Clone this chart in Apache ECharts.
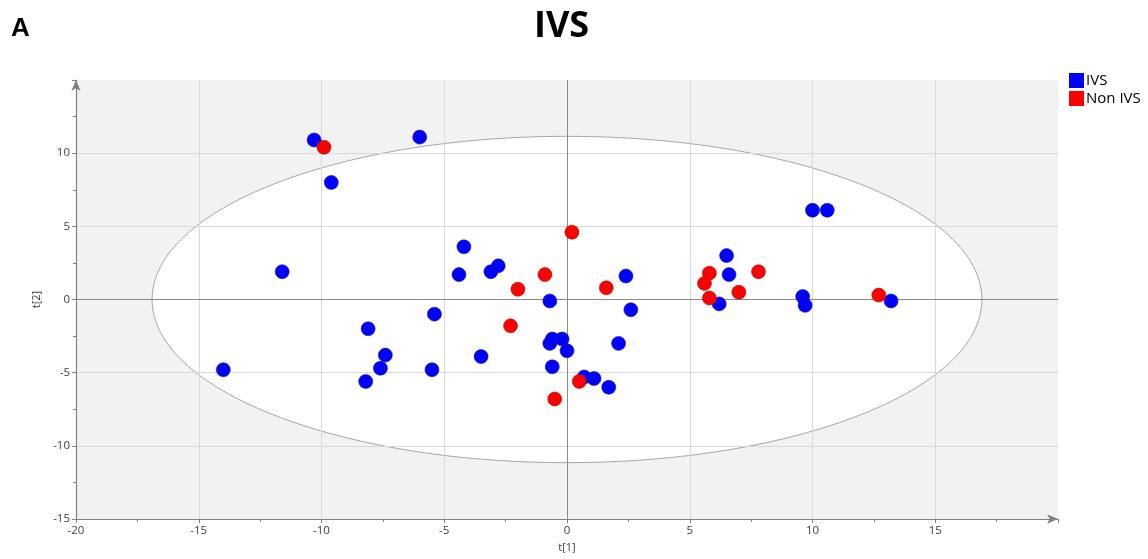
<!DOCTYPE html>
<html>
<head>
<meta charset="utf-8">
<title>IVS</title>
<script src="https://cdn.jsdelivr.net/npm/echarts@6/dist/echarts.min.js"></script>
<style>
html, body { margin: 0; padding: 0; background: #fff; }
#chart { width: 1148px; height: 559px; }
</style>
</head>
<body>
<div id="chart"></div>
<script>
// scores: t[1] (x) and t[2] (y)
var ivsT1 = [-10.3, -6.0, -9.6, -11.6, -4.2, -4.4, -3.1, -2.8, -0.7, 2.4, 2.6, -5.4,
             -8.1, -0.7, -0.6, -0.2, 0.0, 2.1, -7.4, -7.6, -3.5, -5.5, -8.2, -0.6,
             0.7, 1.1, 1.7, -14.0, 10.0, 10.6, 6.5, 6.6, 6.2, 9.6, 9.7, 13.2];
var ivsT2 = [10.9, 11.1, 8.0, 1.9, 3.6, 1.7, 1.9, 2.3, -0.1, 1.6, -0.7, -1.0,
             -2.0, -3.0, -2.7, -2.7, -3.5, -3.0, -3.8, -4.7, -3.9, -4.8, -5.6, -4.6,
             -5.3, -5.4, -6.0, -4.8, 6.1, 6.1, 3.0, 1.7, -0.3, 0.2, -0.4, -0.1];
var nonIvsT1 = [-9.9, 0.2, -0.9, -2.0, 1.6, -2.3, 0.5, -0.5, 5.8, 7.8, 5.6, 7.0, 5.8, 12.7];
var nonIvsT2 = [10.4, 4.6, 1.7, 0.7, 0.8, -1.8, -5.6, -6.8, 1.8, 1.9, 1.1, 0.5, 0.1, 0.3];

var groupNames = ['IVS', 'Non IVS'];
var xRange = [-20, 20];
var yRange = [-15, 15];
var tickStep = 5;

// confidence ellipse, centred at the origin
var ellipseCenter = [0, 0];
var ellipseRadii = [16.9, 11.15];

function pairs(xs, ys) {
  return xs.map(function (x, i) { return [x, ys[i]]; });
}

function drawBackground(params, api) {
  var cs = params.coordSys;
  var c = api.coord([api.value(0), api.value(1)]);
  var rx = api.size([ellipseRadii[0], 0])[0];
  var ry = api.size([0, ellipseRadii[1]])[1];
  return {
    type: 'group',
    children: [
      { type: 'rect', shape: { x: cs.x, y: cs.y, width: cs.width, height: cs.height },
        style: { fill: '#f2f2f2' } },
      { type: 'ellipse', shape: { cx: c[0], cy: c[1], rx: rx, ry: ry },
        style: { fill: '#ffffff', stroke: '#a6a6a6', lineWidth: 1 } }
    ]
  };
}

var chart = echarts.init(document.getElementById('chart'));

function axisCommon(name) {
  return {
    type: 'value',
    name: name,
    nameLocation: 'middle',
    nameTextStyle: { fontFamily: 'Open Sans', fontSize: 11, color: '#404040' },
    interval: tickStep,
    axisLine: { onZero: false, lineStyle: { color: '#808080', width: 1.2 },
                symbol: ['none', 'arrow'], symbolSize: [7, 11] },
    axisTick: { show: true, length: 4, lineStyle: { color: '#808080' } },
    minorTick: { show: true, splitNumber: 2, length: 3, lineStyle: { color: '#808080' } },
    axisLabel: { fontFamily: 'Open Sans', fontSize: 11.5, color: '#404040', margin: 6, showMaxLabel: false },
    splitLine: { show: true, showMaxLine: false, lineStyle: { color: '#d9d9d9', width: 1 } }
  };
}

var xAxis = axisCommon('t[1]');
xAxis.min = xRange[0];
xAxis.max = xRange[1];
xAxis.nameGap = 22;

var yAxis = axisCommon('t[2]');
yAxis.min = yRange[0];
yAxis.max = yRange[1];
yAxis.nameGap = 24;

var option = {
  animation: false,
  backgroundColor: '#ffffff',
  title: [
    { text: 'IVS', left: 529, top: 4,
      textStyle: { fontFamily: 'Open Sans', fontSize: 36, fontWeight: 'bold', color: '#000' } },
    { text: 'A', left: 6, top: 11,
      textStyle: { fontFamily: 'Liberation Sans', fontSize: 26, fontWeight: 'bold', color: '#000' } }
  ],
  legend: {
    data: groupNames,
    orient: 'vertical',
    left: 1064,
    top: 68,
    icon: 'rect',
    itemWidth: 15,
    itemHeight: 15,
    itemGap: 3,
    itemStyle: { borderWidth: 0 },
    textStyle: { fontFamily: 'Open Sans', fontSize: 15, color: '#000', padding: [0, 0, 0, -3] }
  },
  grid: { left: 76, right: 90, top: 80, bottom: 40 },
  xAxis: xAxis,
  yAxis: yAxis,
  series: [
    {
      type: 'custom',
      name: 'ellipse',
      renderItem: drawBackground,
      data: [ellipseCenter],
      encode: { x: 0, y: 1 },
      silent: true,
      z: -1
    },
    {
      type: 'scatter',
      name: groupNames[0],
      data: pairs(ivsT1, ivsT2),
      symbolSize: 14,
      itemStyle: { color: '#0000ff', borderColor: '#1a1a8c', borderWidth: 0.6, opacity: 1 },
      z: 3,
      markLine: {
        silent: true,
        z: 1,
        symbol: ['none', 'none'],
        label: { show: false },
        lineStyle: { color: '#8a8a8a', width: 1, type: 'solid' },
        data: [{ xAxis: 0 }, { yAxis: 0 }]
      }
    },
    {
      type: 'scatter',
      name: groupNames[1],
      data: pairs(nonIvsT1, nonIvsT2),
      symbolSize: 14,
      itemStyle: { color: '#ff0000', borderColor: '#a01010', borderWidth: 0.6, opacity: 1 },
      z: 4
    }
  ]
};

chart.setOption(option);
</script>
</body>
</html>
